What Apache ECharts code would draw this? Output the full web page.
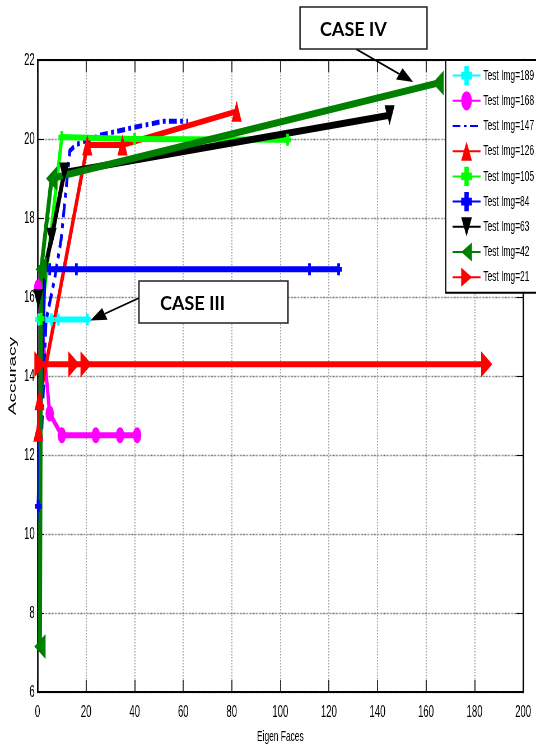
<!DOCTYPE html>
<html>
<head>
<meta charset="utf-8">
<script src="https://cdn.jsdelivr.net/npm/echarts@6/dist/echarts.min.js"></script>
<style>
  html, body { margin: 0; padding: 0; background: #fff; overflow: hidden; width: 536px; height: 749px; }
  /* The figure is laid out on a wide canvas and squeezed horizontally:
     narrow, tall lettering and thin near-vertical strokes. */
  #chart { width: 957px; height: 749px; transform: scaleX(0.560084); transform-origin: 0 0; }
</style>
</head>
<body>
<div id="chart"></div>
<script>
const SQUEEZE = 536 / 957;

// Axis ticks
const xTicks = [0, 20, 40, 60, 80, 100, 120, 140, 160, 180, 200];
const yTicks = [6, 8, 10, 12, 14, 16, 18, 20, 22];

// Accuracy against number of eigen faces, one list per test image count
const img189 = [[0.5, 15.43], [5.7, 15.43], [8.5, 15.43], [20.5, 15.43]];
const img168 = [[0.3, 16.25], [5, 13.05], [10, 12.5], [24, 12.5], [34, 12.5], [41, 12.5]];
const img147 = [[0.3, 10.3], [3.5, 15.4], [7, 16.45], [9.7, 17.45], [13.3, 19.7], [16, 19.86], [26, 20.1], [40, 20.3], [52, 20.45], [62, 20.45]];
const img126 = [[0.3, 12.6], [0.8, 13.4], [20.5, 19.85], [35, 19.85], [82, 20.7]];
const img105 = [[1.5, 15.45], [10, 20.05], [40, 20.0], [103, 19.98]];
const img84  = [[0.3, 10.7], [3, 16.7], [5, 16.7], [16, 16.7], [112, 16.7], [124, 16.7]];
const img63  = [[0.3, 15.95], [5.8, 17.5], [11, 19.15], [145, 20.6]];
const img42  = [[1, 7.15], [1.5, 16.7], [5.8, 19.0], [165, 21.42]];
const img21  = [[1, 14.3], [15, 14.3], [20, 14.3], [185, 14.3]];

// Marker shapes
const PLUS  = 'path://M3,0 L7,0 L7,3 L10,3 L10,7 L7,7 L7,10 L3,10 L3,7 L0,7 L0,3 L3,3 Z';
const UP    = 'path://M1,0 L2,2 L0,2 Z';
const DOWN  = 'path://M0,0 L2,0 L1,2 Z';
const LEFT  = 'path://M0,1 L2,0 L2,2 Z';
const RIGHT = 'path://M0,0 L2,1 L0,2 Z';

const lineDefs = [
  { name: 'Test Img=189', data: img189, color: '#00ffff', symbol: PLUS,     size: 12 },
  { name: 'Test Img=168', data: img168, color: '#ff00ff', symbol: 'circle', size: [15, 16] },
  { name: 'Test Img=147', data: img147, color: '#0000ff', symbol: 'none',   dash: [14, 6, 5, 6], width: 5 },
  { name: 'Test Img=126', data: img126, color: '#ff0000', symbol: UP,       size: [18, 21] },
  { name: 'Test Img=105', data: img105, color: '#00ff00', symbol: PLUS,     size: 12 },
  { name: 'Test Img=84',  data: img84,  color: '#0000ff', symbol: PLUS,     size: 12 },
  { name: 'Test Img=63',  data: img63,  color: '#000000', symbol: DOWN,     size: [18, 20], width: 7 },
  { name: 'Test Img=42',  data: img42,  color: '#008000', symbol: LEFT,     size: [20, 25], width: 7 },
  { name: 'Test Img=21',  data: img21,  color: '#ff0000', symbol: RIGHT,    size: [20, 26] }
];

const FONT = 'Liberation Sans, Arial, sans-serif';

const chart = echarts.init(document.getElementById('chart'), null, { renderer: 'canvas' });

const option = {
  animation: false,
  backgroundColor: '#fff',
  grid: { left: 67, right: 23, top: 60, bottom: 57, containLabel: false },
  legend: {
    orient: 'vertical',
    left: 796,
    top: 60,
    padding: [6, 12, 6, 11],
    itemWidth: 50,
    itemHeight: 24,
    itemGap: 6,
    backgroundColor: '#fff',
    borderColor: '#000',
    borderWidth: 2,
    borderRadius: 0,
    textStyle: { fontFamily: FONT, fontSize: 15, color: '#000' },
    data: lineDefs.map(d => d.symbol === 'none'
      ? { name: d.name, itemStyle: { color: 'rgba(0,0,0,0)', borderWidth: 0 } }
      : d.name)
  },
  xAxis: [
    {
      type: 'value', min: xTicks[0], max: xTicks[xTicks.length - 1], interval: xTicks[1] - xTicks[0],
      name: 'Eigen Faces', nameLocation: 'middle', nameGap: 37,
      nameTextStyle: { fontFamily: FONT, fontSize: 15, color: '#000' },
      axisLine: { show: true, onZero: false, lineStyle: { color: '#000', width: 2 } },
      axisTick: { show: true, inside: true, length: 12, lineStyle: { color: '#000', width: 1.5 } },
      axisLabel: { fontFamily: FONT, fontSize: 17, color: '#000', margin: 12 },
      splitLine: { show: true, lineStyle: { type: 'dotted', color: '#8a8a8a', width: 1.5 } }
    },
    {
      type: 'value', position: 'top', min: xTicks[0], max: xTicks[xTicks.length - 1], interval: xTicks[1] - xTicks[0],
      axisLine: { show: true, onZero: false, lineStyle: { color: '#000', width: 2 } },
      axisTick: { show: true, inside: true, length: 12, lineStyle: { color: '#000', width: 1.5 } },
      axisLabel: { show: false },
      splitLine: { show: false }
    }
  ],
  yAxis: [
    {
      type: 'value', min: yTicks[0], max: yTicks[yTicks.length - 1], interval: yTicks[1] - yTicks[0],
      name: 'Accuracy', nameLocation: 'middle', nameGap: 34, nameRotate: 90,
      nameTextStyle: { fontFamily: FONT, fontSize: 19, color: '#000' },
      axisLine: { show: true, onZero: false, lineStyle: { color: '#000', width: 2.6 } },
      axisTick: { show: true, inside: true, length: 12, lineStyle: { color: '#000', width: 1 } },
      axisLabel: { fontFamily: FONT, fontSize: 17, color: '#000', margin: 5 },
      splitLine: { show: true, lineStyle: { type: 'dotted', color: '#666', width: 1.3 } }
    },
    {
      type: 'value', position: 'right', min: yTicks[0], max: yTicks[yTicks.length - 1], interval: yTicks[1] - yTicks[0],
      axisLine: { show: true, onZero: false, lineStyle: { color: '#000', width: 2.6 } },
      axisTick: { show: true, inside: true, length: 12, lineStyle: { color: '#000', width: 1 } },
      axisLabel: { show: false },
      splitLine: { show: false }
    }
  ],
  series: lineDefs.map(d => ({
    name: d.name,
    type: 'line',
    xAxisIndex: 0,
    yAxisIndex: 0,
    data: d.data,
    symbol: d.symbol,
    symbolSize: d.size || 0,
    showSymbol: d.symbol !== 'none',
    color: d.color,
    itemStyle: { color: d.color, borderWidth: 0 },
    lineStyle: { color: d.color, width: d.width || 6, type: d.dash || 'solid', cap: 'butt', join: 'miter' },
    emphasis: { disabled: true },
    z: 2
  }))
};

chart.setOption(option);

// Annotation call-outs, drawn in screen pixels inside an un-squeezed group
function toScreen(pt) {
  const p = chart.convertToPixel({ gridIndex: 0 }, pt);
  return [p[0] * SQUEEZE, p[1]];
}

function arrow(from, to, len, half) {
  const dx = to[0] - from[0], dy = to[1] - from[1];
  const d = Math.hypot(dx, dy);
  const ux = dx / d, uy = dy / d;
  const bx = to[0] - ux * len, by = to[1] - uy * len;
  return [
    { type: 'line', shape: { x1: from[0], y1: from[1], x2: bx, y2: by }, style: { stroke: '#000', lineWidth: 1.8 } },
    { type: 'polygon', shape: { points: [to, [bx - uy * half, by + ux * half], [bx + uy * half, by - ux * half]] }, style: { fill: '#000' } }
  ];
}

function callout(box, label, textX, tail, tip) {
  return [
    ...arrow(tail, tip, 16, 6.5),
    { type: 'rect', shape: { x: box[0], y: box[1], width: box[2], height: box[3] },
      style: { fill: '#fff', stroke: '#222', lineWidth: 1.4 } },
    { type: 'text', x: textX, y: box[1] + box[3] / 2 + 2,
      style: { text: label, font: 'bold 18px Lato, "Open Sans", sans-serif', fill: '#000',
               align: 'left', verticalAlign: 'middle', textAlign: 'left', textVerticalAlign: 'middle' } }
  ];
}

const endIV = toScreen(img42[img42.length - 1]);
const endIII = toScreen(img189[img189.length - 1]);

chart.setOption({
  graphic: [{
    type: 'group',
    x: 0, y: 0,
    scaleX: 1 / SQUEEZE, scaleY: 1,
    silent: true,
    z: 100,
    children: [
      ...callout([300, 7, 127, 42], 'CASE IV', 320, [356, 49], [endIV[0] - 25, endIV[1] - 1]),
      ...callout([139, 281, 149, 42], 'CASE III', 160, [139, 298], [endIII[0] + 3, endIII[1] + 1])
    ]
  }]
});
</script>
</body>
</html>
